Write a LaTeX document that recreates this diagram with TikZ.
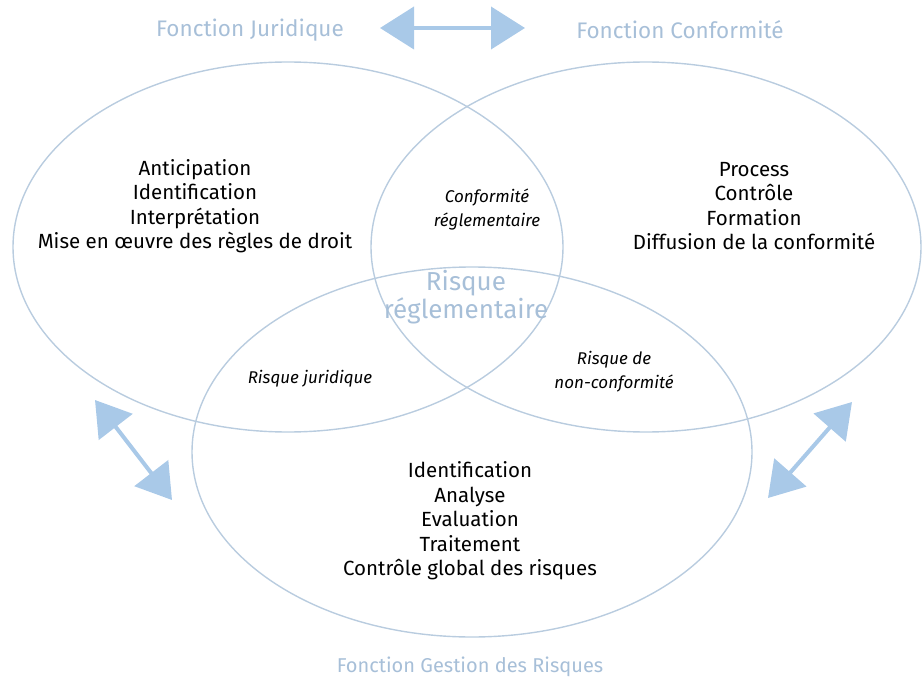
\documentclass[tikz,border=0pt]{standalone}
\usepackage{fontspec}
\setmainfont{Fira Sans}
\usetikzlibrary{arrows.meta}
\definecolor{ringc}{HTML}{B9CCDF}
\definecolor{titlec}{HTML}{A7BFD8}
\definecolor{arrc}{HTML}{A9C9E8}
\tikzset{
  ring/.style={draw=ringc, line width=1.4pt},
  body/.style={align=center, font=\fontsize{20.5}{24.5}\selectfont, inner sep=0pt},
  ibody/.style={align=center, font=\fontsize{17}{24}\selectfont\itshape, inner sep=0pt},
  title/.style={text=titlec, font=\fontsize{22.5}{24}\selectfont, inner sep=0pt},
  bigarrow/.style={draw=arrc, line width=4pt, {Triangle[length=34pt,width=42pt]}-{Triangle[length=34pt,width=42pt]}},
}
\begin{document}
\begin{tikzpicture}[x=1pt,y=-1pt]
\useasboundingbox (0,0) rectangle (924,682);
\draw[ring] (288,247) ellipse [x radius=275, y radius=185];
\draw[ring] (646,247) ellipse [x radius=275, y radius=185];
\draw[ring] (472,452) ellipse [x radius=280, y radius=185];

\node[title] (tj) at (250,30) {Fonction Juridique};
\node[title] (tc) at (680,30) {Fonction Conformité};
\node[title, font=\fontsize{20}{24}\selectfont] (tg) at (470,667) {Fonction Gestion des Risques};

\coordinate (a1) at (380,28);
\coordinate (a2) at (525,28);
\draw[bigarrow] (a1) -- (a2);
\coordinate (b1) at (95,400);
\coordinate (b2) at (172,500);
\draw[bigarrow] (b1) -- (b2);
\coordinate (c1) at (852,402);
\coordinate (c2) at (768,498);
\draw[bigarrow] (c1) -- (c2);

\node[body] (jur) at (195,206) {Anticipation\\Identification\\Interprétation\\Mise en œuvre des règles de droit};
\node[body] (conf) at (754,206) {Process\\Contrôle\\Formation\\Diffusion de la conformité};
\node[body] (ges) at (470,521) {Identification\\Analyse\\Evaluation\\Traitement\\Contrôle global des risques};

\node[ibody] (cr) at (487,210) {Conformité\\réglementaire};
\node[ibody] (rj) at (310,379) {Risque juridique};
\node[ibody] (rn) at (614,372) {Risque de\\non-conformité};
\node[align=center, text=titlec, font=\fontsize{26}{18}\selectfont, inner sep=0pt] (rr) at (466,297) {Risque\\réglementaire};
\end{tikzpicture}
\end{document}
